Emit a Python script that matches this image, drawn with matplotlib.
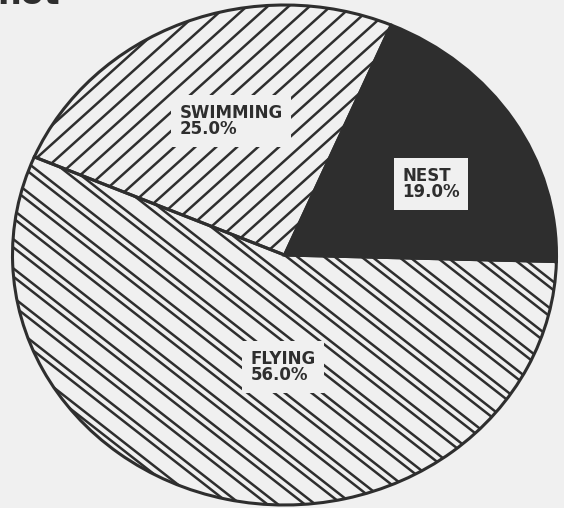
#! /usr/bin/env python
# pie chart of activity shares (scanned-looking black & white style)

import numpy as np
import matplotlib
matplotlib.use("Agg")
import matplotlib.pyplot as plt
from matplotlib.collections import LineCollection

###########################################
# DATA
###########################################
labels = ["NEST", "SWIMMING", "FLYING"]
shares = [19.0, 25.0, 56.0]
fills = ["solid", "single", "double"]

###########################################
# STYLE
###########################################
BG = "#f0f0f0"
INK = "#2e2e2e"
W, H = 564, 508
CX, CY = 284.5, 253.0      # pie centre in pixels (from bottom)
RX, RY = 272.0, 250.0      # radii in pixels (scan is slightly squashed)

fig = plt.figure(figsize=(W / 100, H / 100), dpi=100, facecolor=BG)
ax = fig.add_axes([0, 0, 1, 1])
ax.set_facecolor(BG)

wedges, _ = ax.pie(shares, startangle=-1.5, counterclock=True,
                   colors=[INK if f == "solid" else BG for f in fills],
                   wedgeprops=dict(edgecolor=INK, linewidth=2.2))
ax.set_aspect("auto")
ax.set_xlim(-CX / RX, (W - CX) / RX)
ax.set_ylim(-CY / RY, (H - CY) / RY)
ax.axis("off")


def hatch(wedge, angle, period, gap=None):
    # draw diagonal hatch lines in pixel space, clipped to the wedge
    a = np.deg2rad(angle)
    d = np.array([np.cos(a), np.sin(a)])
    n = np.array([-np.sin(a), np.cos(a)])
    segs = []
    for k in range(-40, 41):
        offs = [k * period] if gap is None else [k * period, k * period + gap]
        for o in offs:
            p0 = o * n - 700 * d
            p1 = o * n + 700 * d
            segs.append([(p0[0] / RX, p0[1] / RY), (p1[0] / RX, p1[1] / RY)])
    lc = LineCollection(segs, colors=INK, linewidths=1.8, zorder=2)
    ax.add_collection(lc)
    lc.set_clip_path(wedge)


for w, f in zip(wedges, fills):
    if f == "single":
        hatch(w, 42, 14.0)
    elif f == "double":
        hatch(w, -38, 23.0, gap=6.5)

# redraw outlines on top of the hatching
for w, f in zip(wedges, fills):
    w.set_zorder(3)
    if f != "solid":
        w.set_facecolor("none")

# label positions (pixels from top-left)
label_pos = {"NEST": (431, 184), "SWIMMING": (231, 121), "FLYING": (283, 367)}
for lab, val in zip(labels, shares):
    px, py = label_pos[lab]
    x = (px - CX) / RX
    y = ((H - py) - CY) / RY
    ax.text(x, y, "%s\n%.1f%%" % (lab, val), ha="center", va="center",
            multialignment="left", fontsize=12, fontweight="heavy",
            color=INK, linespacing=0.9, zorder=5,
            bbox=dict(boxstyle="square,pad=0.5", facecolor=BG,
                      edgecolor="none"))

# cut-off heading at the very top
fig.text(-0.005, 1.01, "not", fontsize=24, fontweight="bold", color=INK,
         va="center", ha="left")

plt.savefig("out.png", dpi=100, facecolor=BG)
